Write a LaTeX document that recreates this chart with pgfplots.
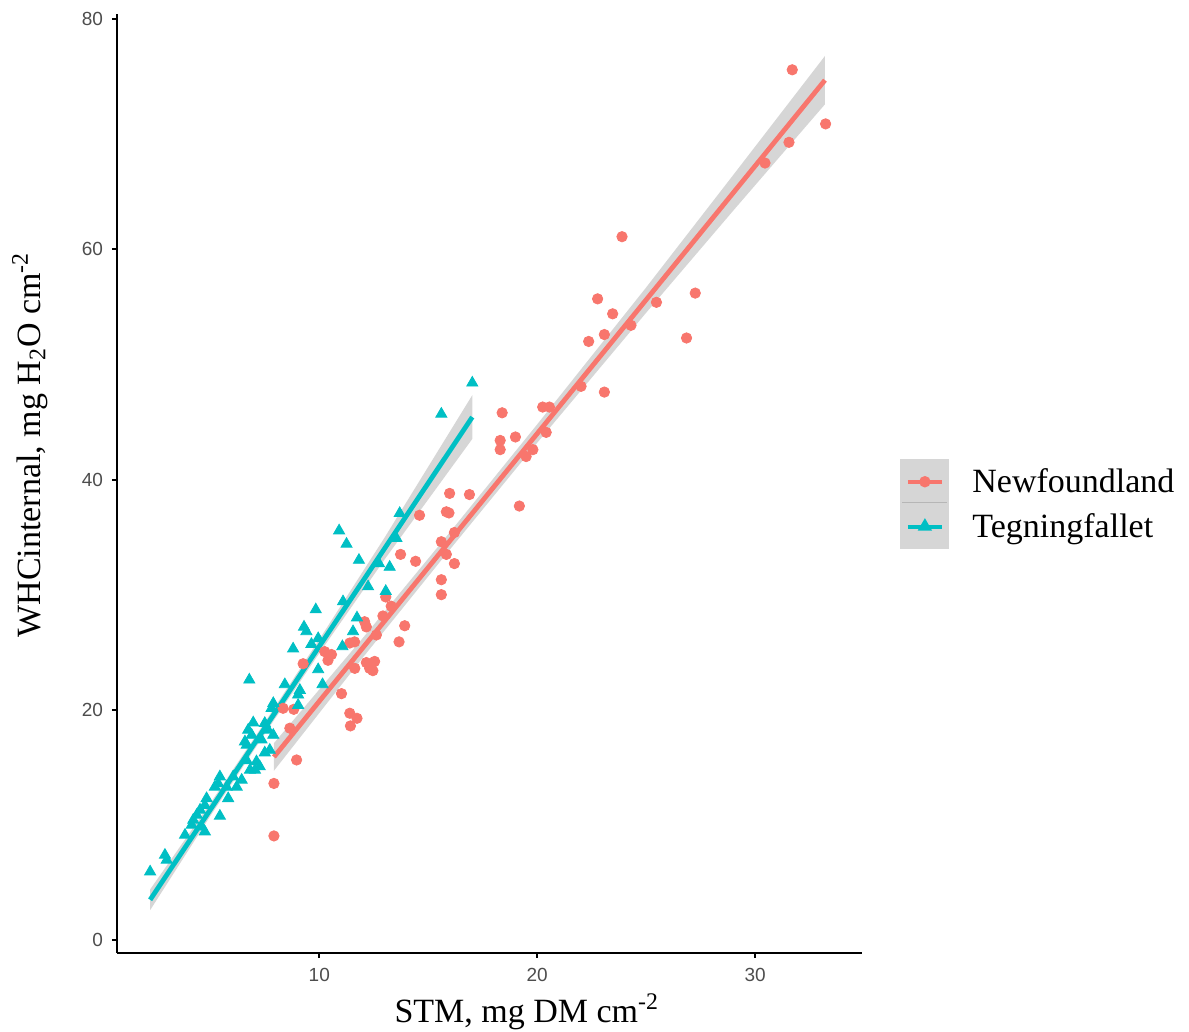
\documentclass[border=0pt]{standalone}
\usepackage{fontspec}
\setmainfont{Liberation Serif}
\newfontfamily\ticksans{Liberation Sans}
\usepackage{pgfplots}
\pgfplotsset{compat=1.18}
\definecolor{nfred}{HTML}{F8766D}
\definecolor{tgteal}{HTML}{00BFC4}
\definecolor{ticklab}{HTML}{4D4D4D}
\definecolor{bandgray}{HTML}{999999}
\definecolor{keygray}{HTML}{D6D6D6}
\pgfplotsset{
  gkeyA/.style={legend image code/.code={
    \fill[keygray] (0pt,-10.2pt) rectangle (22.5pt,10.2pt);
    \draw[keygray!85!black, line width=0.4pt] (0pt,-10.2pt) -- (22.5pt,-10.2pt);
    \draw[##1, mark repeat=2, mark phase=2] plot coordinates {(2.7pt,0pt) (11.25pt,0pt) (19.6pt,0pt)};
  }},
  gkeyB/.style={legend image code/.code={
    \fill[keygray] (0pt,-10.2pt) rectangle (22.5pt,10.2pt);
    \draw[##1, mark repeat=2, mark phase=2] plot coordinates {(2.7pt,0pt) (11.25pt,0pt) (19.6pt,0pt)};
  }},
}
\begin{document}
\begin{tikzpicture}
\path[use as bounding box] (-58.5pt,-39.5pt) rectangle (536pt,476.5pt);
\begin{axis}[
  at={(0pt,0pt)}, anchor=south west,
  scale only axis, width=372.5pt, height=469.5pt,
  xmin=0.72, xmax=34.9, ymin=-1.13, ymax=80.45,
  axis x line*=bottom, axis y line*=left,
  axis line style={line width=1pt, black, -},
  xtick={10,20,30}, ytick={0,20,40,60,80},
  tick align=outside, major tick length=2.5pt,
  tick style={line width=1pt, black},
  tick label style={font=\ticksans\fontsize{9.5}{10}\selectfont, text=ticklab},
  /pgf/number format/assume math mode=true,
  xticklabel style={yshift=-1.5pt},
  yticklabel style={xshift=-1pt},
  label style={font=\fontsize{17}{20}\selectfont},
  xlabel={STM, mg DM cm\textsuperscript{-2}},
  ylabel={WHCinternal, mg H\textsubscript{2}O cm\textsuperscript{-2}},
  xlabel style={at={(axis description cs:0.55,-0.0735)}, anchor=base},
  ylabel style={at={(axis description cs:-0.117,0.541)}, anchor=center},
  legend style={at={(axis description cs:1,0.478)}, xshift=19pt, anchor=west,
    draw=none, fill=none, inner sep=0pt, row sep=0pt,
    font=\fontsize{17}{20}\selectfont, cells={anchor=west},
    /tikz/every odd column/.append style={column sep=9.5pt}},
]
\addlegendimage{gkeyA, nfred, line width=2pt, mark=*, mark size=1.8pt}
\addlegendentry{Newfoundland}
\addlegendimage{gkeyB, tgteal, line width=2pt, mark=triangle*, mark size=2.2pt}
\addlegendentry{Tegningfallet}

% Newfoundland points
\addplot[forget plot, only marks, mark=*, mark size=2.6pt, color=nfred, mark options={draw=none, fill=nfred}] coordinates {
(31.7,75.6) (33.23,70.9) (31.55,69.3) (30.45,67.5) (23.89,61.1) (22.77,55.7)
(27.25,56.2) (23.46,54.4) (25.47,55.4) (23.08,52.6) (22.36,52.0) (24.3,53.4)
(26.85,52.3) (22.01,48.1) (23.08,47.6) (18.39,45.8) (20.25,46.3) (20.56,46.3)
(20.41,44.1) (19.0,43.7) (18.3,43.4) (18.3,42.6) (19.49,42.0) (19.8,42.6)
(19.18,37.7) (15.98,38.8) (16.89,38.7) (15.83,37.2) (15.95,37.1) (14.6,36.9)
(16.2,35.4) (15.6,34.6) (15.83,33.5) (16.2,32.7) (13.73,33.5) (14.42,32.9)
(15.6,31.3) (15.6,30.0) (13.05,29.8) (13.3,29.0) (12.92,28.15) (13.92,27.3)
(12.08,27.65) (12.16,27.2) (12.62,26.5) (13.66,25.9) (11.4,25.8) (11.62,25.9)
(10.25,25.05) (10.56,24.8) (10.4,24.3) (9.26,24.0) (12.16,24.1) (12.54,24.2)
(12.31,23.6) (12.46,23.4) (11.63,23.6) (11.02,21.4) (11.4,19.7) (11.73,19.26)
(11.43,18.6) (8.34,20.13) (8.83,20.04) (8.65,18.4) (8.96,15.64) (7.92,13.6)
(7.92,9.04)
};
% Tegningfallet points
\addplot[forget plot, only marks, mark=triangle*, mark size=3.2pt, color=tgteal, mark options={draw=none, fill=tgteal}] coordinates {
(17.02,48.4) (15.6,45.7) (13.69,37.07) (13.54,34.9) (10.91,35.56) (11.25,34.4)
(11.82,33.0) (13.23,32.4) (12.74,32.7) (12.24,30.7) (13.05,30.3) (11.09,29.4)
(9.84,28.7) (11.73,28.0) (9.30,27.2) (9.41,26.8) (11.55,26.8) (9.95,26.2)
(9.64,25.7) (8.80,25.3) (11.06,25.5) (9.95,23.5) (10.15,22.2) (6.79,22.6)
(8.42,22.2) (9.11,21.7) (9.03,21.3) (7.89,20.56) (7.81,20.13) (9.03,20.4)
(6.97,18.88) (7.50,18.83) (6.74,18.25) (6.90,17.8) (7.65,18.25) (7.89,17.8)
(6.59,17.23) (6.67,16.94) (7.35,17.4) (7.73,16.5) (7.50,16.27) (7.12,15.5)
(6.67,15.6) (7.27,15.06) (7.05,14.77) (6.82,14.77) (5.44,14.19) (5.36,13.6)
(6.05,14.19) (5.21,13.3) (5.75,13.3) (6.21,13.3) (6.44,13.9) (5.82,12.3)
(4.83,12.3) (4.75,11.7) (4.53,11.3) (4.38,10.86) (5.44,10.77) (4.22,10.43)
(4.15,9.99) (4.61,9.84) (4.75,9.41) (3.84,9.12) (2.92,7.38) (3.0,6.95)
(2.24,5.93)
};
% Newfoundland fit
\addplot[forget plot, fill=bandgray, fill opacity=0.4, draw=none] coordinates {
(7.92,17.1) (12,26.24) (16,35.44) (20,44.8) (25,56.7) (29,66.48) (33.2,76.8)
(33.2,72.6) (29,63.38) (25,54.5) (20,43.2) (16,33.94) (12,24.54) (7.92,14.7)
} --cycle;
\addplot[forget plot, nfred, line width=2.4pt] coordinates {(7.92,15.9) (33.2,74.7)};
% Tegningfallet fit
\addplot[forget plot, fill=bandgray, fill opacity=0.4, draw=none] coordinates {
(2.24,4.39) (5,11.87) (7.5,18.91) (10,26.11) (13,34.97) (17.02,47.33)
(17.02,43.53) (13,33.07) (10,24.91) (7.5,17.91) (5,10.77) (2.24,2.59)
} --cycle;
\addplot[forget plot, tgteal, line width=2.4pt] coordinates {(2.24,3.49) (17.02,45.43)};
\end{axis}
\end{tikzpicture}
\end{document}
